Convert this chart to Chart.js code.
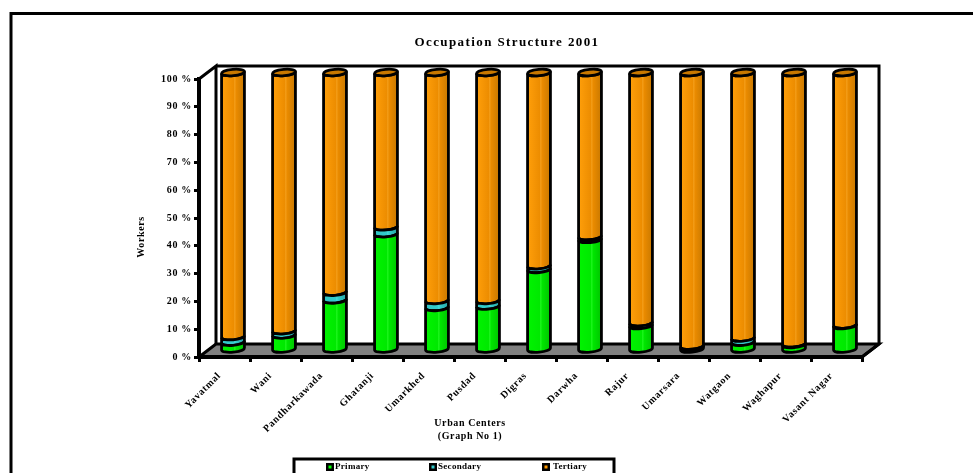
<!DOCTYPE html>
<html>
<head>
<meta charset="utf-8">
<style>
  html, body { margin: 0; padding: 0; background: #fff; overflow: hidden; }
  #box { position: relative; width: 973px; height: 473px; }
</style>
<script src="https://cdn.jsdelivr.net/npm/chart.js@4/dist/chart.umd.min.js"></script>
</head>
<body>
<div id="box"><canvas id="occupation"></canvas></div>
<script>
// Data (percent of workers)
const villes = ["Yavatmal", "Wani", "Pandharkawada", "Ghatanji", "Umarkhed", "Pusdad", "Digras",
  "Darwha", "Rajur", "Umarsara", "Watgaon", "Waghapur", "Vasant Nagar"];
const primary = [3, 5.6, 18.2, 42, 15.5, 16, 29.2, 40, 9, 1.3, 3, 2.2, 9];
const secondary = [2, 1.5, 2.8, 2.5, 2.5, 2, 1.3, 1, 1, 0.3, 1.5, 0.2, 0.2];
const tertiary = [95, 92.9, 79, 55.5, 82, 82, 69.5, 59, 90, 98.4, 95.5, 97.6, 90.8];

const FONT = "'Liberation Serif', serif";
const DX = 17, DY = -13;   // depth of the 3D box

// colours of the cylinders: [left, light band, mid, right]
const shades = {
  Primary: ["#00f400", "#30ff30", "#00e800", "#00c400"],
  Secondary: ["#30c4c4", "#50e0e0", "#33cccc", "#28a4a4"],
  Tertiary: ["#ff9f0a", "#f8a828", "#ec8c00", "#c87800"]
};

function cylinderFill(ctx, x, r, names) {
  const g = ctx.createLinearGradient(x - r, 0, x + r, 0);
  g.addColorStop(0, names[0]);
  g.addColorStop(0.55, names[2]);
  g.addColorStop(0.58, names[1]);
  g.addColorStop(0.62, names[2]);
  g.addColorStop(1, names[3]);
  return g;
}

function drawSegment(ctx, el, names, isTop) {
  const x = el.x + DX / 2, r = el.width / 2, ry = 3.2, tilt = -0.09;
  const yTop = el.y + DY / 2, yBot = el.base + DY / 2;
  ctx.beginPath();
  ctx.ellipse(x, yBot, r, ry, tilt, Math.PI, 0, true);
  ctx.ellipse(x, yTop, r, ry, tilt, 0, Math.PI, false);
  ctx.closePath();
  ctx.fillStyle = cylinderFill(ctx, x, r, names);
  ctx.fill();
  ctx.lineWidth = 2.8;
  ctx.strokeStyle = "#000";
  ctx.stroke();
  if (isTop) {
    ctx.beginPath();
    ctx.ellipse(x, yTop, r, ry, tilt, 0, Math.PI * 2);
    ctx.fillStyle = names[3];
    ctx.fill();
    ctx.stroke();
  }
}

// Frame, walls and floor, under the axes
const boxPlugin = {
  id: "box3d",
  beforeDraw(chart) {
    const { ctx, chartArea: a } = chart;
    // the reference text is spaced wide, ticks included
    ctx.letterSpacing = "0.7px";
    ctx.save();
    ctx.strokeStyle = "#000";
    ctx.lineJoin = "miter";
    ctx.lineWidth = 3;
    // frame runs off the right and bottom of the picture
    ctx.strokeRect(11, 13.5, 1000, 500);

    ctx.beginPath();
    ctx.moveTo(a.left, a.bottom);
    ctx.lineTo(a.left + DX, a.bottom + DY);
    ctx.lineTo(a.right + DX, a.bottom + DY);
    ctx.lineTo(a.right, a.bottom);
    ctx.closePath();
    ctx.fillStyle = "#808080";
    ctx.fill();
    ctx.stroke();

    ctx.beginPath();
    ctx.moveTo(a.left, a.top);
    ctx.lineTo(a.left + DX, a.top + DY);
    ctx.lineTo(a.left + DX, a.bottom + DY);
    ctx.moveTo(a.left + DX, a.top + DY);
    ctx.lineTo(a.right + DX, a.top + DY);
    ctx.lineTo(a.right + DX, a.bottom + DY);
    ctx.lineTo(a.right, a.bottom);
    ctx.stroke();
    ctx.restore();
  },
  // cylinders replace the flat bars, drawn from the bar elements
  beforeDatasetDraw(chart, args) {
    const ds = chart.data.datasets[args.index];
    const isTop = args.index === chart.data.datasets.length - 1;
    const { ctx } = chart;
    ctx.save();
    args.meta.data.forEach((el) => drawSegment(ctx, el, shades[ds.label], isTop));
    ctx.restore();
    return false;
  },
  afterDraw(chart) {
    const { ctx } = chart;
    ctx.save();
    ctx.fillStyle = "#000";
    ctx.textAlign = "center";
    ctx.textBaseline = "middle";

    ctx.letterSpacing = "1.4px";
    ctx.font = "bold 13px " + FONT;
    ctx.fillText("Occupation Structure 2001", 507, 43);

    ctx.letterSpacing = "0.6px";
    ctx.font = "bold 10px " + FONT;
    ctx.fillText("Urban Centers", 470, 423);
    ctx.fillText("(Graph No 1)", 470, 436);

    ctx.save();
    ctx.translate(141, 237);
    ctx.rotate(-Math.PI / 2);
    ctx.fillText("Workers", 0, 0);
    ctx.restore();

    // legend
    ctx.letterSpacing = "0.3px";
    ctx.lineWidth = 3;
    ctx.strokeRect(294, 459, 320, 20);
    const legendX = [330, 433, 546];
    const textGap = [5, 5, 7];
    ctx.font = "bold 9px " + FONT;
    ctx.textAlign = "left";
    chart.data.datasets.forEach((ds, i) => {
      ctx.fillStyle = "#000";
      ctx.fillRect(legendX[i] - 4, 463, 8, 8);
      ctx.fillStyle = ds.backgroundColor;
      ctx.fillRect(legendX[i] - 1.5, 465.5, 3, 3);
      ctx.fillStyle = "#000";
      ctx.fillText(ds.label, legendX[i] + textGap[i], 467);
    });
    ctx.restore();
  }
};

new Chart(document.getElementById("occupation"), {
  type: "bar",
  plugins: [boxPlugin],
  data: {
    labels: villes,
    datasets: [
      { label: "Primary", data: primary, backgroundColor: "#00ff00" },
      { label: "Secondary", data: secondary, backgroundColor: "#33cccc" },
      { label: "Tertiary", data: tertiary, backgroundColor: "#ff9900" }
    ]
  },
  options: {
    responsive: true,
    maintainAspectRatio: false,
    animation: false,
    layout: { padding: { left: 0, right: 111, top: 79, bottom: 0 } },
    plugins: { legend: { display: false }, title: { display: false }, tooltip: { enabled: false } },
    datasets: { bar: { categoryPercentage: 1, barPercentage: 0.45 } },
    scales: {
      x: {
        stacked: true,
        afterFit: (s) => { s.height = 116; },
        grid: { drawOnChartArea: false, offset: true, color: "#000", lineWidth: 3, tickLength: 5 },
        border: { color: "#000", width: 4 },
        ticks: {
          color: "#000", minRotation: 45, maxRotation: 45, autoSkip: false,
          padding: 8, labelOffset: -5, font: { family: FONT, weight: "bold", size: 10 }
        }
      },
      y: {
        stacked: true,
        min: 0,
        max: 100,
        afterFit: (s) => { s.width = 199; },
        grid: { drawOnChartArea: false, color: "#000", lineWidth: 3, tickLength: 5 },
        border: { color: "#000", width: 4 },
        ticks: {
          color: "#000", stepSize: 10, padding: 2,
          callback: (v) => v + " %",
          font: { family: FONT, weight: "bold", size: 10 }
        }
      }
    }
  }
});
</script>
</body>
</html>
